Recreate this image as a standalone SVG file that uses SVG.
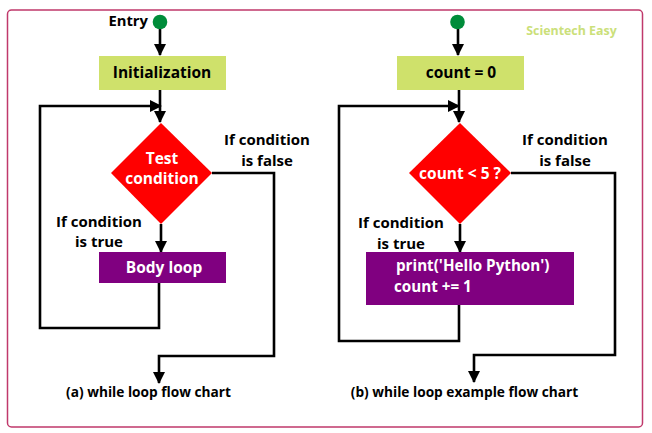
<svg xmlns="http://www.w3.org/2000/svg" width="652" height="433" viewBox="0 0 652 433">
<defs>
<marker id="ah" markerUnits="userSpaceOnUse" markerWidth="12" markerHeight="12" viewBox="0 0 12 12" refX="11" refY="6" orient="auto">
<path d="M0,0 L12,6 L0,12 Z" fill="#000"/>
</marker>
</defs>
<style>
.t{font-family:"Open Sans","Liberation Sans",sans-serif;font-weight:bold;}
.lbl{font-size:15px;fill:#000;}
.w{fill:#fff;font-size:15.5px;}
.c{stroke:#000;stroke-width:2.6;fill:none;}
.init{fill:#cfe16b;}
.body{fill:#800080;}
.dec{fill:#ff0000;}
</style>
<rect x="7.5" y="10" width="635" height="417" rx="4" fill="#fff" stroke="#c0396b" stroke-width="1.5"/>
<text class="t" x="571.5" y="35" font-size="12.4" fill="#cbe07a" text-anchor="middle">Scientech Easy</text>

<g id="connectors">
<line class="c" x1="160" y1="29" x2="160" y2="55" marker-end="url(#ah)"/>
<line class="c" x1="160" y1="90" x2="160" y2="122" marker-end="url(#ah)"/>
<polyline class="c" points="159,283 159,328 40,328 40,106 161,106" marker-end="url(#ah)"/>
<line class="c" x1="161" y1="224" x2="161" y2="252" marker-end="url(#ah)"/>
<polyline class="c" points="212,173 274,173 274,356 159,356 159,383" marker-end="url(#ah)"/>

<line class="c" x1="458" y1="29" x2="458" y2="55" marker-end="url(#ah)"/>
<line class="c" x1="459" y1="90" x2="459" y2="122" marker-end="url(#ah)"/>
<polyline class="c" points="459,305 459,341 339,341 339,106 459,106" marker-end="url(#ah)"/>
<line class="c" x1="460" y1="224" x2="460" y2="252" marker-end="url(#ah)"/>
<polyline class="c" points="511,173 615,173 615,355 474,355 474,382" marker-end="url(#ah)"/>
</g>

<g id="entry-a">
<circle cx="160" cy="22" r="7.3" fill="#008c3a"/>
<text class="t" x="148" y="26" font-size="14.8" text-anchor="end">Entry</text>
</g>
<g id="init-a">
<rect class="init" x="99" y="56" width="127" height="34"/>
<text class="t" x="162" y="78" font-size="15.5" text-anchor="middle">Initialization</text>
</g>
<g id="test-a">
<polygon class="dec" points="161,123 212,173 161,224 111,173"/>
<text class="t w" x="162" y="163.5" text-anchor="middle">Test</text>
<text class="t w" x="162" y="184" text-anchor="middle">condition</text>
</g>
<g id="body-a">
<rect class="body" x="99" y="252" width="127" height="31"/>
<text class="t w" x="164" y="272.5" text-anchor="middle">Body loop</text>
</g>
<g id="labels-a">
<text class="t lbl" x="267" y="145" text-anchor="middle">If condition</text>
<text class="t lbl" x="267" y="166" text-anchor="middle">is false</text>
<text class="t lbl" x="99" y="227" text-anchor="middle">If condition</text>
<text class="t lbl" x="99" y="246.5" text-anchor="middle">is true</text>
<text class="t" x="148.5" y="397" font-size="13.7" text-anchor="middle">(a) while loop flow chart</text>
</g>

<g id="entry-b">
<circle cx="457.5" cy="22" r="7.3" fill="#008c3a"/>
</g>
<g id="init-b">
<rect class="init" x="397" y="56" width="127" height="34"/>
<text class="t" x="461" y="78" font-size="15.5" text-anchor="middle">count = 0</text>
</g>
<g id="test-b">
<polygon class="dec" points="460,123 511,173 460,224 409,173"/>
<text class="t w" x="460" y="179" text-anchor="middle">count &lt; 5 ?</text>
</g>
<g id="body-b">
<rect class="body" x="366" y="252" width="208" height="53"/>
<text class="t" x="396" y="271" font-size="15.2" fill="#fff">print('Hello Python')</text>
<text class="t" x="394" y="292" font-size="15.2" fill="#fff">count += 1</text>
</g>
<g id="labels-b">
<text class="t lbl" x="565" y="145" text-anchor="middle">If condition</text>
<text class="t lbl" x="565" y="166" text-anchor="middle">is false</text>
<text class="t lbl" x="401" y="228" text-anchor="middle">If condition</text>
<text class="t lbl" x="401" y="248.5" text-anchor="middle">is true</text>
<text class="t" x="464.5" y="397" font-size="13.7" text-anchor="middle">(b) while loop example flow chart</text>
</g>
</svg>
